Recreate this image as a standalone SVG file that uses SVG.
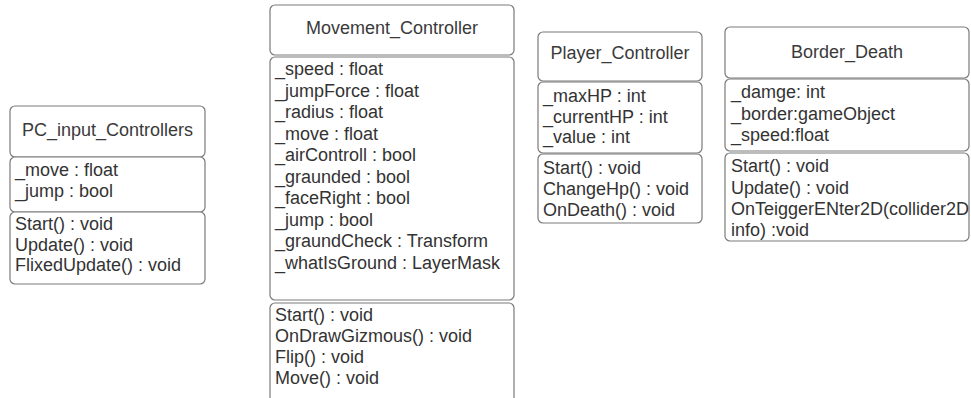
<svg xmlns="http://www.w3.org/2000/svg" width="971" height="398" viewBox="0 0 971 398">
<style>
.box{fill:#ffffff;stroke:#7a7a7a;stroke-width:1.2}
.t{font-family:"Liberation Sans",Arial,sans-serif;font-size:18px;fill:#333333}
.h{font-family:"Liberation Sans",Arial,sans-serif;font-size:18px;fill:#3a3a3a;text-anchor:middle}
</style>
<rect width="971" height="398" fill="#ffffff"/>
<g id="PC_input_Controllers">
<rect class="box" x="10" y="106" width="195" height="51" rx="5"/>
<rect class="box" x="10" y="157" width="195" height="55" rx="5"/>
<rect class="box" x="10" y="212" width="195" height="72" rx="5"/>
<text class="h" x="107.5" y="136">PC_input_Controllers</text>
<text class="t" x="15" y="176">_move : float</text>
<text class="t" x="15" y="197">_jump : bool</text>
<text class="t" x="15" y="230">Start() : void</text>
<text class="t" x="15" y="251">Update() : void</text>
<text class="t" x="15" y="271">FlixedUpdate() : void</text>
</g>
<g id="Movement_Controller">
<rect class="box" x="270" y="5" width="244" height="50" rx="5"/>
<rect class="box" x="270" y="57" width="244" height="243" rx="5"/>
<rect class="box" x="270" y="303" width="244" height="100" rx="5"/>
<text class="h" x="392" y="34">Movement_Controller</text>
<text class="t" x="275" y="75">_speed : float</text>
<text class="t" x="275" y="96.5">_jumpForce : float</text>
<text class="t" x="275" y="118">_radius : float</text>
<text class="t" x="275" y="139.5">_move : float</text>
<text class="t" x="275" y="161">_airControll : bool</text>
<text class="t" x="275" y="182.5">_graunded : bool</text>
<text class="t" x="275" y="204">_faceRight : bool</text>
<text class="t" x="275" y="225.5">_jump : bool</text>
<text class="t" x="275" y="247">_graundCheck : Transform</text>
<text class="t" x="275" y="268.5">_whatIsGround : LayerMask</text>
<text class="t" x="275" y="321">Start() : void</text>
<text class="t" x="275" y="342">OnDrawGizmous() : void</text>
<text class="t" x="275" y="363">Flip() : void</text>
<text class="t" x="275" y="384">Move() : void</text>
</g>
<g id="Player_Controller">
<rect class="box" x="538" y="32" width="164" height="49" rx="5"/>
<rect class="box" x="538" y="82" width="164" height="71" rx="5"/>
<rect class="box" x="538" y="154" width="164" height="69" rx="5"/>
<text class="h" x="620" y="59">Player_Controller</text>
<text class="t" x="543" y="102">_maxHP : int</text>
<text class="t" x="543" y="123">_currentHP : int</text>
<text class="t" x="543" y="143">_value : int</text>
<text class="t" x="543" y="174">Start() : void</text>
<text class="t" x="543" y="195">ChangeHp() : void</text>
<text class="t" x="543" y="216">OnDeath() : void</text>
</g>
<g id="Border_Death">
<rect class="box" x="725" y="27" width="244" height="51" rx="5"/>
<rect class="box" x="725" y="79" width="244" height="72" rx="5"/>
<rect class="box" x="725" y="153" width="244" height="88" rx="5"/>
<text class="h" x="847" y="58">Border_Death</text>
<text class="t" x="731" y="98">_damge: int</text>
<text class="t" x="731" y="119.5">_border:gameObject</text>
<text class="t" x="731" y="141">_speed:float</text>
<text class="t" x="731" y="172">Start() : void</text>
<text class="t" x="731" y="193.5">Update() : void</text>
<text class="t" x="731" y="215">OnTeiggerENter2D(collider2D</text>
<text class="t" x="731" y="236">info) :void</text>
</g>
<g id="connectors"></g>
</svg>
